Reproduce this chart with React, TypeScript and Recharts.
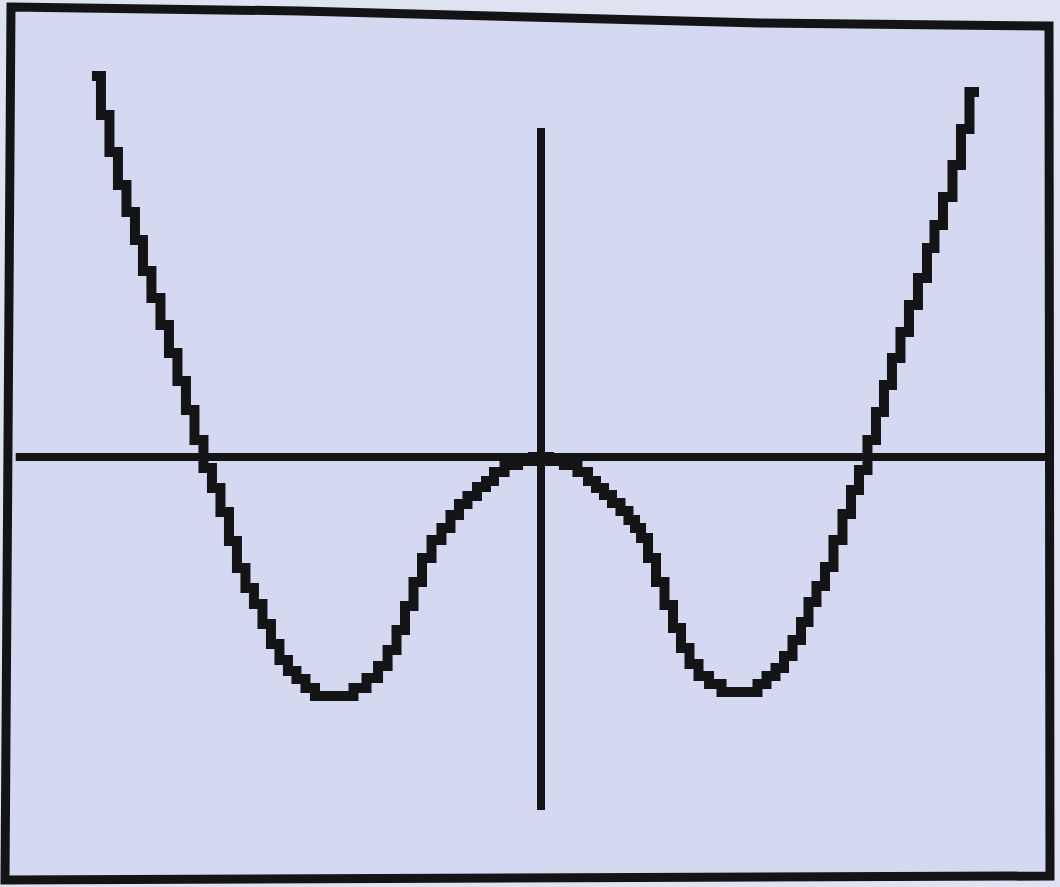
import React from "react";
import { ComposedChart, Line, XAxis, YAxis, ReferenceLine } from "recharts";

// Curve sample points (x, y in graph units)
const xValues = [
  -2.612, -2.565, -2.512, -2.465, -2.412, -2.365, -2.318, -2.265, -2.212, -2.165,
  -2.112, -2.065, -2.012, -1.959, -1.912, -1.859, -1.812, -1.765, -1.712, -1.665,
  -1.612, -1.565, -1.512, -1.465, -1.412, -1.359, -1.3, -1.141, -1.065, -0.988,
  -0.929, -0.876, -0.824, -0.776, -0.724, -0.676, -0.612, -0.559, -0.506, -0.459,
  -0.406, -0.347, -0.3, -0.253, -0.176, -0.094, 0, 0.094, 0.176, 0.253,
  0.3, 0.347, 0.394, 0.441, 0.494, 0.535, 0.571, 0.606, 0.653, 0.7,
  0.753, 0.8, 0.847, 0.9, 0.953, 1.024, 1.1, 1.247, 1.3, 1.353,
  1.406, 1.453, 1.506, 1.553, 1.594, 1.647, 1.694, 1.747, 1.8, 1.847,
  1.894, 1.947, 1.994, 2.041, 2.088, 2.141, 2.188, 2.247, 2.294, 2.335,
  2.394, 2.447, 2.494, 2.547,
];
const yValues = [
  7.62, 6.84, 6.1, 5.44, 4.9, 4.34, 3.72, 3.18, 2.64, 2.08,
  1.52, 0.94, 0.34, -0.22, -0.62, -1.1, -1.68, -2.22, -2.62, -2.94,
  -3.34, -3.74, -4.06, -4.28, -4.44, -4.62, -4.78, -4.78, -4.62, -4.42,
  -4.18, -3.86, -3.46, -2.98, -2.5, -2.02, -1.66, -1.42, -1.16, -0.94,
  -0.78, -0.6, -0.48, -0.3, -0.16, -0.08, 0, -0.08, -0.16, -0.3,
  -0.48, -0.62, -0.76, -0.92, -1.08, -1.26, -1.42, -1.62, -2.02, -2.5,
  -2.96, -3.42, -3.82, -4.14, -4.38, -4.54, -4.7, -4.7, -4.54, -4.38,
  -4.22, -3.98, -3.66, -3.3, -2.9, -2.58, -2.2, -1.66, -1.14, -0.66,
  -0.26, 0.34, 0.9, 1.44, 1.98, 2.5, 3.04, 3.58, 4.18, 4.64,
  5.2, 5.84, 6.56, 7.3,
];

const xDomain = [-3, 3];
const yDomain = [-8, 8];
const xAxisExtent = [-3.09, 2.97];
const yAxisExtent = [-7.06, 6.58];

const data = xValues.map((x, i) => ({ x, y: yValues[i] }));

const INK = "#141416";
const SCREEN = "#d4d9f1";

export default function App() {
  return (
    <div
      style={{
        position: "absolute",
        left: 0,
        top: 0,
        width: 1060,
        height: 887,
        overflow: "hidden",
        background: "#dfe3f1",
      }}
    >
      <svg
        width={1060}
        height={887}
        style={{ position: "absolute", left: 0, top: 0 }}
      >
        <polygon
          points="11,7 300,11 760,23 1049,26 1050,876 5,880"
          fill={SCREEN}
          stroke={INK}
          strokeWidth={9}
          strokeLinejoin="miter"
        />
      </svg>
      <div style={{ position: "absolute", left: 0, top: 0 }}>
        <ComposedChart
          width={1060}
          height={887}
          data={data}
          margin={{ left: 31, right: 9, top: 57, bottom: 30 }}
        >
          <XAxis
            dataKey="x"
            type="number"
            domain={xDomain}
            allowDataOverflow
            hide
            height={0}
          />
          <YAxis
            type="number"
            domain={yDomain}
            allowDataOverflow
            hide
            width={0}
          />
          <ReferenceLine
            segment={[
              { x: xAxisExtent[0], y: 0 },
              { x: xAxisExtent[1], y: 0 },
            ]}
            stroke={INK}
            strokeWidth={8}
            ifOverflow="visible"
          />
          <ReferenceLine
            segment={[
              { x: 0, y: yAxisExtent[0] },
              { x: 0, y: yAxisExtent[1] },
            ]}
            stroke={INK}
            strokeWidth={8}
            ifOverflow="visible"
          />
          <Line
            dataKey="y"
            type="step"
            stroke={INK}
            strokeWidth={10}
            strokeLinejoin="miter"
            strokeLinecap="square"
            dot={false}
            activeDot={false}
            isAnimationActive={false}
          />
        </ComposedChart>
      </div>
    </div>
  );
}
